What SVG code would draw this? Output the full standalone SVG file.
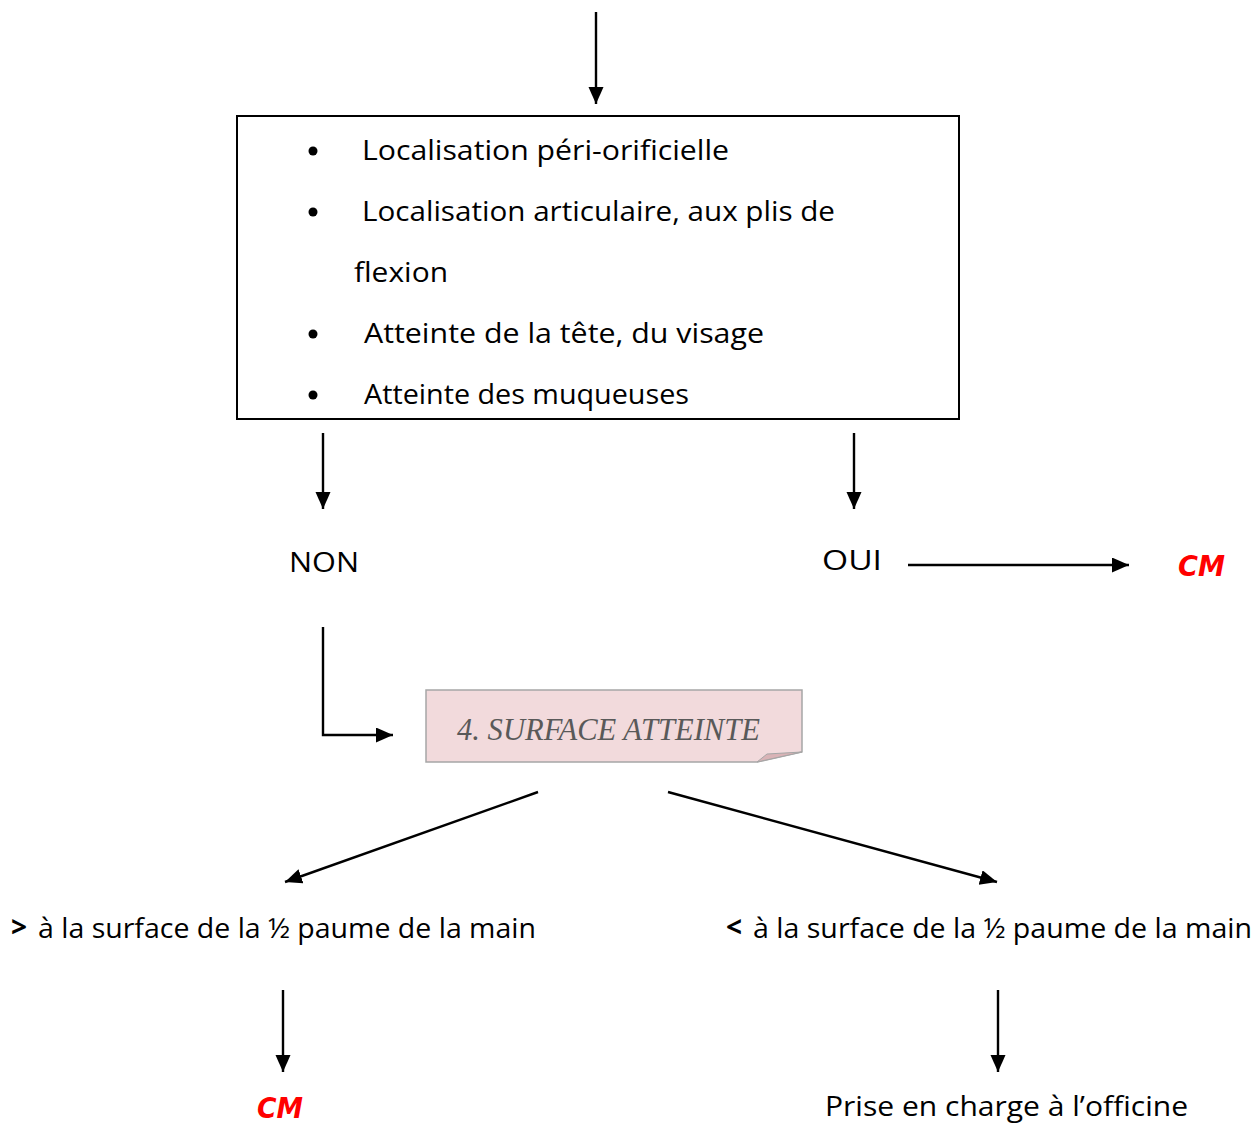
<svg xmlns="http://www.w3.org/2000/svg" width="1257" height="1124" viewBox="0 0 1257 1124">
<style>
.t{font-family:"Open Sans","DejaVu Sans",sans-serif;font-size:28px;fill:#000}
.cm{font-family:"DejaVu Sans",sans-serif;font-size:28px;font-weight:bold;font-style:italic;fill:#ff0000}
.c{stroke:#000;stroke-width:2.4;fill:none;marker-end:url(#ah)}
</style>
<defs>
<marker id="ah" markerUnits="userSpaceOnUse" markerWidth="19" markerHeight="16" refX="17" refY="7.5" orient="auto">
<path d="M0,0 L17,7.5 L0,15 Z" fill="#000"/>
</marker>
</defs>
<rect width="1257" height="1124" fill="#fff"/>
<g id="connectors">
<line class="c" x1="596" y1="12" x2="596" y2="104"/>
<line class="c" x1="323" y1="433" x2="323" y2="509"/>
<line class="c" x1="854" y1="433" x2="854" y2="509"/>
<line class="c" x1="908" y1="565" x2="1129" y2="565"/>
<polyline class="c" points="323,627 323,735 393,735"/>
<line class="c" x1="538" y1="792" x2="285" y2="882"/>
<line class="c" x1="668" y1="792" x2="997" y2="882"/>
<line class="c" x1="283" y1="990" x2="283" y2="1072"/>
<line class="c" x1="998" y1="990" x2="998" y2="1072"/>
</g>
<g id="criteria">
<rect x="237" y="116" width="722" height="303" fill="#fff" stroke="#000" stroke-width="2"/>
<circle cx="313" cy="151" r="4.5"/>
<circle cx="313" cy="212" r="4.5"/>
<circle cx="313" cy="334" r="4.5"/>
<circle cx="313" cy="395" r="4.5"/>
<text class="t" x="362" y="160" textLength="367" lengthAdjust="spacingAndGlyphs">Localisation péri-orificielle</text>
<text class="t" x="362" y="221" textLength="473" lengthAdjust="spacingAndGlyphs">Localisation articulaire, aux plis de</text>
<text class="t" x="354" y="282" textLength="94" lengthAdjust="spacingAndGlyphs">flexion</text>
<text class="t" x="364" y="343" textLength="400" lengthAdjust="spacingAndGlyphs">Atteinte de la tête, du visage</text>
<text class="t" x="364" y="404" textLength="325" lengthAdjust="spacingAndGlyphs">Atteinte des muqueuses</text>
</g>
<g id="non"><text class="t" x="289" y="572" textLength="70" lengthAdjust="spacingAndGlyphs">NON</text></g>
<g id="oui"><text class="t" x="822" y="570" textLength="60" lengthAdjust="spacingAndGlyphs">OUI</text></g>
<g id="cm1"><text class="cm" x="1178" y="576" textLength="47" lengthAdjust="spacingAndGlyphs">CM</text></g>
<g id="surface">
<path d="M426,690 H802 V752 L757,762 H426 Z" fill="#f2dadc" stroke="#a6a6a6" stroke-width="1.5"/>
<path d="M757,762 L767,754 L802,752 Z" fill="#d9b3b6" stroke="#a6a6a6" stroke-width="1"/>
<text x="457" y="740" font-family="'Liberation Serif',serif" font-style="italic" font-size="32" fill="#595959" textLength="303" lengthAdjust="spacingAndGlyphs">4. SURFACE ATTEINTE</text>
</g>
<g id="greater">
<text class="t" x="11" y="937" font-weight="bold" font-size="24">&gt;</text>
<text class="t" x="38" y="938" textLength="498" lengthAdjust="spacingAndGlyphs">à la surface de la ½ paume de la main</text>
</g>
<g id="less">
<text class="t" x="726" y="937" font-weight="bold" font-size="24">&lt;</text>
<text class="t" x="753" y="938" textLength="499" lengthAdjust="spacingAndGlyphs">à la surface de la ½ paume de la main</text>
</g>
<g id="cm2"><text class="cm" x="257" y="1118" textLength="46" lengthAdjust="spacingAndGlyphs">CM</text></g>
<g id="officine"><text class="t" x="825" y="1116" textLength="363" lengthAdjust="spacingAndGlyphs">Prise en charge à l’officine</text></g>
</svg>
